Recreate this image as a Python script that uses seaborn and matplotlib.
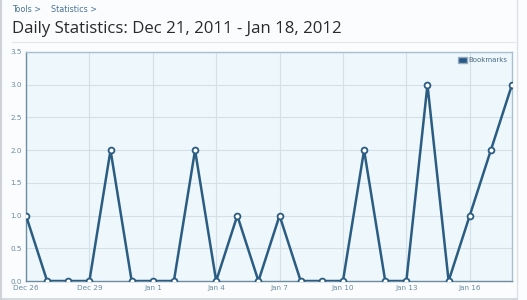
import matplotlib
matplotlib.use("Agg")
import matplotlib.pyplot as plt
from matplotlib.lines import Line2D
from matplotlib.patches import Patch
import seaborn as sns
import pandas as pd

dates = pd.date_range("2011-12-26", "2012-01-18", freq="D")
bookmarks = [1, 0, 0, 0, 2, 0, 0, 0, 2, 0, 1, 0, 1, 0, 0, 0, 2, 0, 0, 3, 0, 1, 2, 3]
tick_dates = ["2011-12-26", "2011-12-29", "2012-01-01", "2012-01-04",
              "2012-01-07", "2012-01-10", "2012-01-13", "2012-01-16"]
tick_labels = ["Dec 26", "Dec 29", "Jan 1", "Jan 4", "Jan 7", "Jan 10", "Jan 13", "Jan 16"]
y_ticks = [0.0, 0.5, 1.0, 1.5, 2.0, 2.5, 3.0, 3.5]

df = pd.DataFrame({"date": dates, "Bookmarks": bookmarks})

sns.set_theme(style="white")
plt.rcParams["font.family"] = ["DejaVu Sans"]

line_color = "#2b5d82"
fig = plt.figure(figsize=(5.27, 3.00), dpi=100)
fig.patch.set_facecolor("#fbfcfe")

ax = fig.add_axes([26 / 527, 1 - 281 / 300, (512 - 26) / 527, (281 - 52) / 300])
ax.set_facecolor("#eef7fc")

sns.lineplot(data=df, x="date", y="Bookmarks", ax=ax, color=line_color, linewidth=1.8,
             marker="o", markersize=4.2, markerfacecolor="white",
             markeredgecolor=line_color, markeredgewidth=1.3, zorder=3)

ax.set_xlim(dates[0], dates[-1])
ax.set_ylim(0, 3.5)
ax.set_yticks(y_ticks)
ax.set_yticklabels([f"{v:.1f}" for v in y_ticks])
ax.set_xticks(pd.to_datetime(tick_dates))
ax.set_xticklabels(tick_labels)
ax.set_xlabel("")
ax.set_ylabel("")
ax.grid(True, color="#d3e0e8", linewidth=0.8)
ax.set_axisbelow(True)
ax.tick_params(axis="both", length=0, labelsize=5.2, labelcolor="#6b8aa0", pad=3)
for s in ["left", "bottom"]:
    ax.spines[s].set_color("#6f8da0")
    ax.spines[s].set_linewidth(1.0)
for s in ["top", "right"]:
    ax.spines[s].set_color("#a9c1cf")
    ax.spines[s].set_linewidth(1.0)

leg = ax.legend(handles=[Patch(facecolor="#24598a", edgecolor="#9ab", label="Bookmarks")],
                loc="upper right", frameon=False, fontsize=5, handlelength=1.2,
                handleheight=0.9, handletextpad=0.2, borderaxespad=0.3)
for t in leg.get_texts():
    t.set_color("#4a6a80")

fig.text(12 / 527, 1 - 10 / 300, "Tools >    Statistics >", fontsize=5.8,
         color="#4a7394", va="center", ha="left")
fig.text(12 / 527, 1 - 29 / 300, "Daily Statistics: Dec 21, 2011 - Jan 18, 2012",
         fontsize=12.1, color="#2a2a2a", va="center", ha="left", family=["Open Sans", "DejaVu Sans"])
fig.add_artist(Line2D([12 / 527, 515 / 527], [1 - 42 / 300, 1 - 42 / 300],
                      color="#e1e5ea", linewidth=0.8))
# page frame
fig.add_artist(Line2D([1 / 527, 1 / 527], [0, 1], color="#cfd3d8", linewidth=1.5))
fig.add_artist(Line2D([516.5 / 527, 516.5 / 527], [0, 1], color="#dde1e5", linewidth=1.0))
fig.add_artist(Line2D([0, 516.5 / 527], [1 - 298.5 / 300, 1 - 298.5 / 300],
                      color="#cfd3d8", linewidth=1.2))

fig.savefig("out.png", dpi=100, facecolor=fig.get_facecolor())
